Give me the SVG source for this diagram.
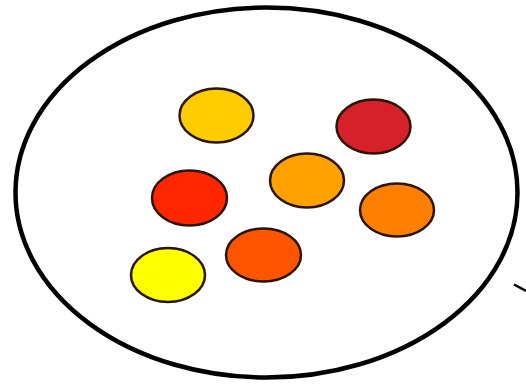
<svg xmlns="http://www.w3.org/2000/svg" width="526" height="384" viewBox="0 0 526 384">
<style>
.dot{stroke:#2a1505;stroke-width:2.5}
</style>
<rect width="526" height="384" fill="#ffffff"/>
<g id="cell">
<ellipse cx="266.5" cy="192.5" rx="251" ry="185" fill="none" stroke="#000" stroke-width="4.5"/>
</g>
<g id="c1"><ellipse class="dot" cx="216.5" cy="115.5" rx="37" ry="27" fill="#FFCC00"/></g>
<g id="c2"><ellipse class="dot" cx="373.5" cy="126.5" rx="37" ry="27" fill="#D6202A"/></g>
<g id="c3"><ellipse class="dot" cx="189.5" cy="198" rx="37.5" ry="27.5" fill="#FF2600"/></g>
<g id="c4"><ellipse class="dot" cx="307" cy="180.5" rx="37" ry="27" fill="#FFA200"/></g>
<g id="c5"><ellipse class="dot" cx="397" cy="210" rx="37" ry="26.5" fill="#FF8000"/></g>
<g id="c6"><ellipse class="dot" cx="263.5" cy="255" rx="37.5" ry="26.5" fill="#FF5500"/></g>
<g id="c7"><ellipse class="dot" cx="168" cy="275" rx="37" ry="27" fill="#FFFF00"/></g>
<g id="connectors">
<line x1="514" y1="284.5" x2="526" y2="291" stroke="#000" stroke-width="2.5"/>
</g>
</svg>
